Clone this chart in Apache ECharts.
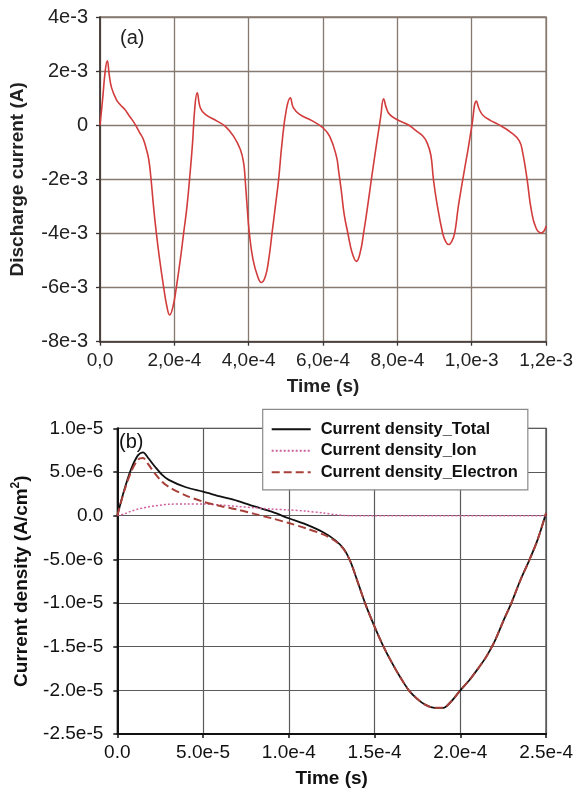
<!DOCTYPE html>
<html>
<head>
<meta charset="utf-8">
<script src="https://cdn.jsdelivr.net/npm/echarts@6/dist/echarts.min.js"></script>
<style>
  html, body { margin: 0; padding: 0; background: #fff; }
  #chart { width: 576px; height: 790px; }
</style>
</head>
<body>
<div id="chart"></div>
<script>
// (a) Discharge current waveform: time (s) and current (A)
const timeA = [
  0, 0.07e-4, 0.14e-4, 0.196e-4, 0.25e-4, 0.31e-4, 0.44e-4, 0.55e-4, 0.67e-4, 0.78e-4,
  0.89e-4, 0.98e-4, 1.07e-4, 1.16e-4, 1.24e-4, 1.31e-4, 1.37e-4, 1.44e-4, 1.516e-4, 1.605e-4,
  1.713e-4, 1.80e-4, 1.874e-4, 1.964e-4, 2.054e-4, 2.16e-4, 2.25e-4, 2.34e-4, 2.41e-4, 2.49e-4,
  2.547e-4, 2.615e-4, 2.70e-4, 2.834e-4, 3.148e-4, 3.372e-4, 3.596e-4, 3.776e-4, 3.865e-4, 3.91e-4,
  3.955e-4, 4.018e-4, 4.117e-4, 4.242e-4, 4.34e-4, 4.448e-4, 4.538e-4, 4.628e-4, 4.717e-4, 4.807e-4,
  4.897e-4, 5.013e-4, 5.12e-4, 5.2e-4, 5.37e-4, 5.7e-4, 6.0e-4, 6.18e-4, 6.36e-4, 6.42e-4,
  6.49e-4, 6.57e-4, 6.67e-4, 6.78e-4, 6.9e-4, 7.0e-4, 7.09e-4, 7.21e-4, 7.3e-4, 7.45e-4,
  7.55e-4, 7.63e-4, 7.7e-4, 7.79e-4, 8.0e-4, 8.29e-4, 8.5e-4, 8.69e-4, 8.8e-4, 8.9e-4,
  8.97e-4, 9.06e-4, 9.22e-4, 9.3e-4, 9.38e-4, 9.46e-4, 9.54e-4, 9.64e-4, 9.76e-4, 9.9e-4,
  10.0e-4, 10.126e-4, 10.2e-4, 10.3e-4, 10.5e-4, 10.7e-4, 11.06e-4, 11.28e-4, 11.37e-4, 11.49e-4,
  11.6e-4, 11.73e-4, 11.87e-4, 11.95e-4, 12.0e-4
];
const currentA = [
  0, 0.95e-3, 2.0e-3, 2.38e-3, 1.85e-3, 1.39e-3, 0.95e-3, 0.75e-3, 0.58e-3, 0.36e-3,
  0.15e-3, -0.05e-3, -0.28e-3, -0.5e-3, -0.85e-3, -1.25e-3, -1.95e-3, -3.0e-3, -3.99e-3, -4.97e-3,
  -5.99e-3, -6.7e-3, -7.01e-3, -6.7e-3, -5.99e-3, -4.97e-3, -3.99e-3, -3.0e-3, -1.98e-3, -0.65e-3,
  0.58e-3, 1.2e-3, 0.64e-3, 0.4e-3, 0.15e-3, -0.04e-3, -0.41e-3, -0.9e-3, -1.4e-3, -2.1e-3,
  -2.95e-3, -3.99e-3, -4.97e-3, -5.59e-3, -5.81e-3, -5.59e-3, -4.97e-3, -3.99e-3, -3.0e-3, -1.98e-3,
  -0.65e-3, 0.58e-3, 1.01e-3, 0.65e-3, 0.4e-3, 0.17e-3, -0.1e-3, -0.41e-3, -1.15e-3, -1.7e-3,
  -2.4e-3, -3.3e-3, -4.0e-3, -4.7e-3, -5.03e-3, -4.7e-3, -4.0e-3, -2.9e-3, -2.0e-3, -0.6e-3,
  0.3e-3, 0.98e-3, 0.65e-3, 0.4e-3, 0.2e-3, 0.02e-3, -0.2e-3, -0.41e-3, -0.65e-3, -1.1e-3,
  -2.0e-3, -2.85e-3, -4.0e-3, -4.3e-3, -4.41e-3, -4.3e-3, -4.0e-3, -3.0e-3, -2.0e-3, -0.9e-3,
  -0.05e-3, 0.89e-3, 0.6e-3, 0.37e-3, 0.18e-3, 0.04e-3, -0.27e-3, -0.58e-3, -1.0e-3, -2.0e-3,
  -3.11e-3, -3.8e-3, -3.98e-3, -3.9e-3, -3.72e-3
];

// (b) Current density components over one period: time (s), density (A/cm2)
const timeB = [
  0, 4e-6, 8e-6, 1.2e-5, 1.5e-5, 1.8e-5, 2.2e-5, 2.6e-5, 3.0e-5, 4.0e-5,
  5.0e-5, 6.0e-5, 7.0e-5, 8.0e-5, 9.0e-5, 1.0e-4, 1.1e-4, 1.2e-4, 1.27e-4, 1.32e-4,
  1.36e-4, 1.4e-4, 1.45e-4, 1.5e-4, 1.55e-4, 1.6e-4, 1.65e-4, 1.7e-4, 1.75e-4, 1.8e-4,
  1.85e-4, 1.9e-4, 1.95e-4, 2.0e-4, 2.05e-4, 2.1e-4, 2.15e-4, 2.2e-4, 2.25e-4, 2.3e-4,
  2.35e-4, 2.4e-4, 2.45e-4, 2.5e-4
];
const totalB = [
  0, 2.9e-6, 5.3e-6, 6.9e-6, 7.25e-6, 6.6e-6, 5.6e-6, 4.7e-6, 4.1e-6, 3.25e-6,
  2.75e-6, 2.2e-6, 1.7e-6, 1.05e-6, 0.45e-6, -0.3e-6, -1.0e-6, -1.9e-6, -2.8e-6, -3.8e-6,
  -5.3e-6, -7.5e-6, -10.3e-6, -12.7e-6, -14.9e-6, -16.8e-6, -18.5e-6, -20.0e-6, -21.0e-6, -21.7e-6,
  -22.0e-6, -22.0e-6, -21.2e-6, -20.0e-6, -18.9e-6, -17.6e-6, -16.2e-6, -14.4e-6, -12.1e-6, -9.9e-6,
  -7.4e-6, -5.2e-6, -2.8e-6, 0.3e-6
];
const ionB = [
  0, 0.2e-6, 0.5e-6, 0.75e-6, 0.88e-6, 1.0e-6, 1.12e-6, 1.22e-6, 1.3e-6, 1.34e-6,
  1.33e-6, 1.22e-6, 1.05e-6, 0.9e-6, 0.75e-6, 0.65e-6, 0.52e-6, 0.3e-6, 0.12e-6, 0.03e-6,
  0, 0, 0, 0, 0, 0, 0, 0, 0, 0,
  0, 0, 0, 0, 0, 0, 0, 0, 0, 0,
  0, 0, 0, 0
];
const electronB = [
  0, 2.8e-6, 5.0e-6, 6.4e-6, 6.6e-6, 5.9e-6, 4.8e-6, 3.9e-6, 3.3e-6, 2.3e-6,
  1.6e-6, 1.1e-6, 0.7e-6, 0.2e-6, -0.3e-6, -0.85e-6, -1.45e-6, -2.15e-6, -2.9e-6, -3.85e-6,
  -5.3e-6, -7.5e-6, -10.3e-6, -12.7e-6, -14.9e-6, -16.8e-6, -18.5e-6, -20.0e-6, -21.0e-6, -21.7e-6,
  -22.0e-6, -22.0e-6, -21.2e-6, -20.0e-6, -18.9e-6, -17.6e-6, -16.2e-6, -14.4e-6, -12.1e-6, -9.9e-6,
  -7.4e-6, -5.2e-6, -2.8e-6, 0.3e-6
];
const seriesNamesB = ['Current density_Total', 'Current density_Ion', 'Current density_Electron'];

const FONT = '"Liberation Sans", Arial, sans-serif';
const pair = (xs, ys) => xs.map((x, i) => [x, ys[i]]);
const isZero = v => Math.abs(v) < 1e-15;

// tick label styles: comma decimals on (a), point decimals on (b)
const fmtTimeA = v => isZero(v) ? '0,0' : v.toExponential(1).replace('.', ',').replace('e+', 'e');
const fmtCurA = v => isZero(v) ? '0' : v.toExponential(0).replace('e+', 'e');
const fmtB = v => isZero(v) ? '0.0' : v.toExponential(1).replace('e+', 'e');

const gridColA = '#86796f';
const gridColB = '#5a5a5a';

const chart = echarts.init(document.getElementById('chart'), null, { renderer: 'canvas' });

chart.setOption({
  backgroundColor: '#ffffff',
  animation: false,
  grid: [
    { left: 100, top: 17, width: 446.7, height: 324.7, show: true, borderColor: gridColA, borderWidth: 1.3, backgroundColor: 'transparent' },
    { left: 117.3, top: 428.3, width: 431, height: 305.7, show: true, borderColor: '#333', borderWidth: 1.3, backgroundColor: 'transparent' }
  ],
  xAxis: [
    {
      type: 'value', gridIndex: 0, min: 0, max: 1.2e-3, interval: 2e-4,
      name: 'Time (s)', nameLocation: 'middle', nameGap: 36,
      nameTextStyle: { fontFamily: FONT, fontSize: 19, fontWeight: 'bold', color: '#222' },
      axisLine: { onZero: false, lineStyle: { color: '#3a3230', width: 1.6 } },
      axisTick: { show: true, length: 4, lineStyle: { color: '#3a3230', width: 1.3 } },
      axisLabel: { formatter: fmtTimeA, fontFamily: FONT, fontSize: 19, color: '#222', margin: 10 },
      splitLine: { show: true, lineStyle: { color: gridColA, width: 1.3 } }
    },
    {
      type: 'value', gridIndex: 1, min: 0, max: 2.5e-4, interval: 5e-5,
      name: 'Time (s)', nameLocation: 'middle', nameGap: 35,
      nameTextStyle: { fontFamily: FONT, fontSize: 19, fontWeight: 'bold', color: '#111' },
      axisLine: { onZero: false, lineStyle: { color: '#111', width: 2 } },
      axisTick: { show: true, length: 4, lineStyle: { color: '#111', width: 1.5 } },
      axisLabel: { formatter: fmtB, fontFamily: FONT, fontSize: 19, color: '#111', margin: 9 },
      splitLine: { show: true, lineStyle: { color: gridColB, width: 1.2 } }
    }
  ],
  yAxis: [
    {
      type: 'value', gridIndex: 0, min: -8e-3, max: 4e-3, interval: 2e-3,
      name: 'Discharge current (A)', nameLocation: 'middle', nameGap: 73,
      nameTextStyle: { fontFamily: FONT, fontSize: 19, fontWeight: 'bold', color: '#222' },
      axisLine: { onZero: false, lineStyle: { color: '#3a3230', width: 1.6 } },
      axisTick: { show: true, length: 4, lineStyle: { color: '#3a3230', width: 1.3 } },
      axisLabel: { formatter: fmtCurA, fontFamily: FONT, fontSize: 20, color: '#222', margin: 12 },
      splitLine: { show: true, lineStyle: { color: gridColA, width: 1.3 } }
    },
    {
      type: 'value', gridIndex: 1, min: -2.5e-5, max: 1e-5, interval: 5e-6,
      name: '{t|Current density (A/cm}{s|2}{t|)}', nameLocation: 'middle', nameGap: 86,
      nameTextStyle: {
        fontFamily: FONT, fontSize: 19, fontWeight: 'bold', color: '#111',
        rich: {
          t: { fontFamily: FONT, fontSize: 19, fontWeight: 'bold', color: '#111', lineHeight: 22, verticalAlign: 'bottom' },
          s: { fontFamily: FONT, fontSize: 12, fontWeight: 'bold', color: '#111', lineHeight: 22, verticalAlign: 'top', padding: [0, 0, 8, 0] }
        }
      },
      axisLine: { onZero: false, lineStyle: { color: '#111', width: 2 } },
      axisTick: { show: true, length: 4, lineStyle: { color: '#111', width: 1.5 } },
      axisLabel: { formatter: fmtB, fontFamily: FONT, fontSize: 19, color: '#111', margin: 14 },
      splitLine: { show: true, lineStyle: { color: gridColB, width: 1.2 } }
    }
  ],
  legend: {
    data: seriesNamesB,
    orient: 'vertical',
    left: 262.7, top: 409.3,
    padding: [11.5, 10, 9, 8],
    itemGap: 4.5, itemWidth: 39, itemHeight: 14,
    itemStyle: { opacity: 0 },
    backgroundColor: '#ffffff', borderColor: '#8a8a8a', borderWidth: 1.2, borderRadius: 0,
    textStyle: { fontFamily: FONT, fontSize: 16.5, fontWeight: 'bold', color: '#111', padding: [0, 0, 0, 5] },
    selectedMode: false
  },
  graphic: [
    { type: 'text', x: 120, y: 38, style: { text: '(a)', font: '20px ' + FONT, fill: '#222', verticalAlign: 'middle' }, z: 10 },
    { type: 'text', x: 119, y: 442, style: { text: '(b)', font: '20px ' + FONT, fill: '#111', verticalAlign: 'middle' }, z: 10 }
  ],
  series: [
    {
      name: 'Discharge current', type: 'line', xAxisIndex: 0, yAxisIndex: 0,
      data: pair(timeA, currentA), smooth: 0.45, symbol: 'none',
      lineStyle: { color: '#d23c3c', width: 1.6 }, z: 3
    },
    {
      name: seriesNamesB[0], type: 'line', xAxisIndex: 1, yAxisIndex: 1,
      data: pair(timeB, totalB), smooth: 0.3, symbol: 'none',
      itemStyle: { color: '#111' },
      lineStyle: { color: '#111', width: 1.8, type: 'solid' }, z: 3
    },
    {
      name: seriesNamesB[1], type: 'line', xAxisIndex: 1, yAxisIndex: 1,
      data: pair(timeB, ionB), smooth: 0.3, symbol: 'none',
      itemStyle: { color: '#d0609e' },
      lineStyle: { color: '#d0609e', width: 1.5, type: [2, 2] }, z: 4
    },
    {
      name: seriesNamesB[2], type: 'line', xAxisIndex: 1, yAxisIndex: 1,
      data: pair(timeB, electronB), smooth: 0.3, symbol: 'none',
      itemStyle: { color: '#a8403a' },
      lineStyle: { color: '#a8403a', width: 2, type: [8, 4] }, z: 5
    }
  ]
});
</script>
</body>
</html>
